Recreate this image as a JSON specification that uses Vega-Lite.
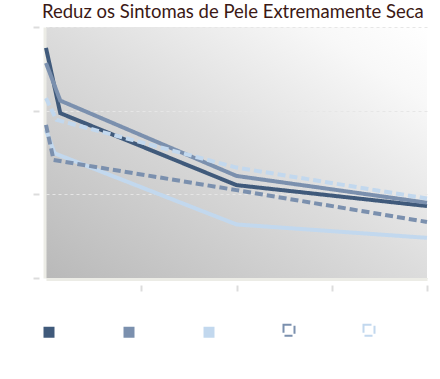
{
  "$schema": "https://vega.github.io/schema/vega-lite/v6.json",
  "width": 381,
  "height": 251,
  "autosize": {"type": "none"},
  "padding": {"left": 46, "top": 27, "right": 13, "bottom": 101},
  "background": "white",
  "title": {
    "text": "Reduz os Sintomas de Pele Extremamente Seca",
    "anchor": "start",
    "frame": "group",
    "font": "Lato",
    "fontSize": 18.5,
    "fontWeight": "normal",
    "color": "#3b1915",
    "dx": -4,
    "offset": 5
  },
  "view": {
    "stroke": null,
    "fill": {
      "gradient": "linear",
      "x1": 0, "y1": 1, "x2": 1, "y2": 0,
      "stops": [
        {"offset": 0, "color": "#b9b9b9"},
        {"offset": 0.5, "color": "#dcdcdc"},
        {"offset": 0.85, "color": "#f8f8f8"},
        {"offset": 1, "color": "#ffffff"}
      ]
    }
  },
  "data": {
    "values": [
      {"serie": "Série 1", "semana": 0, "valor": 2.75},
      {"serie": "Série 1", "semana": 0.15, "valor": 1.97},
      {"serie": "Série 1", "semana": 2, "valor": 1.11},
      {"serie": "Série 1", "semana": 4, "valor": 0.86},
      {"serie": "Série 2", "semana": 0, "valor": 2.57},
      {"serie": "Série 2", "semana": 0.15, "valor": 2.12},
      {"serie": "Série 2", "semana": 2, "valor": 1.22},
      {"serie": "Série 2", "semana": 4, "valor": 0.9},
      {"serie": "Série 3", "semana": 0, "valor": 1.77},
      {"serie": "Série 3", "semana": 0.09, "valor": 1.49},
      {"serie": "Série 3", "semana": 2, "valor": 0.64},
      {"serie": "Série 3", "semana": 4, "valor": 0.48},
      {"serie": "Série 4", "semana": 0, "valor": 1.83},
      {"serie": "Série 4", "semana": 0.08, "valor": 1.41},
      {"serie": "Série 4", "semana": 2, "valor": 1.05},
      {"serie": "Série 4", "semana": 4, "valor": 0.67},
      {"serie": "Série 5", "semana": 0, "valor": 2.15},
      {"serie": "Série 5", "semana": 0.11, "valor": 1.89},
      {"serie": "Série 5", "semana": 2, "valor": 1.32},
      {"serie": "Série 5", "semana": 4, "valor": 0.95}
    ]
  },
  "layer": [
    {
      "mark": {"type": "point", "opacity": 0},
      "encoding": {
        "x": {
          "field": "semana", "type": "quantitative",
          "scale": {"domain": [0, 4], "nice": false, "zero": false},
          "axis": {"orient": "bottom", "domain": true, "domainColor": "#ecece6", "domainWidth": 3, "ticks": false, "labels": false, "grid": false, "offset": 1, "title": null}
        },
        "y": {
          "field": "valor", "type": "quantitative",
          "scale": {"domain": [0, 3], "nice": false},
          "axis": {"orient": "left", "domain": true, "domainColor": "#ecece6", "domainWidth": 3, "ticks": false, "labels": false, "grid": false, "offset": 1.5, "title": null}
        }
      }
    },
    {
      "mark": {"type": "line", "strokeWidth": 4},
      "encoding": {
        "x": {
          "field": "semana", "type": "quantitative",
          "axis": {"orient": "bottom", "values": [1, 2, 3, 4], "domain": false, "labels": false, "ticks": true, "tickSize": 6, "tickWidth": 2, "tickColor": "#dcdcdc", "offset": 7, "grid": false, "title": null}
        },
        "y": {
          "field": "valor", "type": "quantitative",
          "axis": {"orient": "left", "values": [0, 1, 2, 3], "domain": false, "labels": false, "ticks": true, "tickSize": 6, "tickWidth": 2, "tickColor": "#dcdcdc", "offset": 7, "grid": true, "gridColor": "#e6e6e6", "gridDash": [3, 3], "gridWidth": 1, "title": null}
        },
        "color": {
          "field": "serie", "type": "nominal",
          "scale": {
            "domain": ["Série 1", "Série 2", "Série 3", "Série 4", "Série 5"],
            "range": ["#405a7b", "#7b90ae", "#c2d8ee", "#7b90ae", "#c2d8ee"]
          },
          "legend": {
            "title": null,
            "orient": "none",
            "legendX": -2,
            "legendY": 298,
            "direction": "horizontal",
            "columns": 5,
            "gridAlign": "all",
            "symbolType": "square",
            "symbolSize": 121,
            "symbolStrokeWidth": 2,
            "labelColor": "#ffffff",
            "labelFontSize": 10,
            "labelOffset": 4,
            "columnPadding": 29,
            "encode": {
              "symbols": {
                "update": {
                  "fill": {"signal": "(datum.value === 'Série 4' || datum.value === 'Série 5') ? 'transparent' : scale('color', datum.value)"},
                  "strokeWidth": {"signal": "(datum.value === 'Série 4' || datum.value === 'Série 5') ? 2 : 0"},
                  "strokeDash": {"signal": "(datum.value === 'Série 4' || datum.value === 'Série 5') ? [4, 2] : [1, 0]"}
                }
              }
            }
          }
        },
        "strokeDash": {
          "field": "serie", "type": "nominal",
          "scale": {
            "domain": ["Série 1", "Série 2", "Série 3", "Série 4", "Série 5"],
            "range": [[1, 0], [1, 0], [1, 0], [8, 4], [8, 4]]
          },
          "legend": null
        },
        "order": {"field": "semana", "type": "quantitative"}
      }
    }
  ],
  "resolve": {"axis": {"x": "independent", "y": "independent"}}
}
